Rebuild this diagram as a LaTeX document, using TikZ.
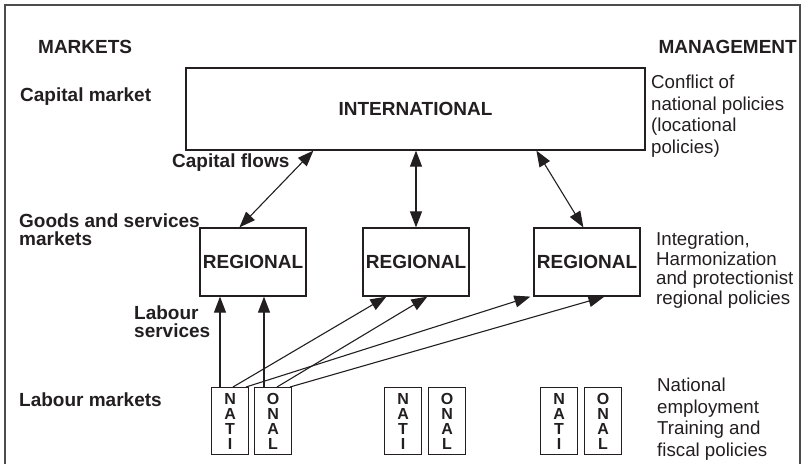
\documentclass[tikz,border=0pt]{standalone}
\usepackage{fontspec}
\setmainfont{Liberation Sans}
\usetikzlibrary{arrows.meta}
\definecolor{ink}{HTML}{231F20}
\begin{document}
\begin{tikzpicture}[x=1pt,y=-1pt,
  lab/.style={font=\bfseries\fontsize{19}{17.5}\selectfont, text=ink, inner sep=0pt, align=left},
  note/.style={font=\fontsize{18.7}{21.5}\selectfont, text=ink, inner sep=0pt, align=left, anchor=north west},
  tightnote/.style={note, font=\fontsize{18.7}{19.5}\selectfont},
  box/.style={draw=ink, line width=1.2pt, inner sep=0pt, text=ink,
    font=\bfseries\fontsize{19}{19}\selectfont},
  lbox/.style={draw=ink, line width=1.2pt, inner sep=0pt, text=ink,
    minimum width=37pt, minimum height=67pt, anchor=north west, align=center,
    font=\bfseries\fontsize{16}{15}\selectfont},
  tip/.tip={Triangle[length=16pt,width=12pt]},
  arr/.style={draw=ink, line width=1.1pt, -tip},
  darr/.style={draw=ink, line width=1.1pt, tip-tip},
]
\useasboundingbox (0,0) rectangle (804,464);
% open frame
\draw[line width=1.6pt, black!70] (5,464) -- (5,5) -- (800,5) -- (800,464);

% market boxes
\node[box, minimum width=459pt, minimum height=82pt] (intl) at (415.5,109) {INTERNATIONAL};
\node[box, minimum width=106pt, minimum height=68pt] (reg1) at (253,262) {REGIONAL};
\node[box, minimum width=106pt, minimum height=68pt] (reg2) at (416,262) {REGIONAL};
\node[box, minimum width=106pt, minimum height=68pt] (reg3) at (587,262) {REGIONAL};

% national labour markets
\node[lbox] (n1) at (211,387) {N\\A\\T\\I};
\node[lbox] (o1) at (254,387) {O\\N\\A\\L};
\node[lbox] (n2) at (384,387) {N\\A\\T\\I};
\node[lbox] (o2) at (428,387) {O\\N\\A\\L};
\node[lbox] (n3) at (540,387) {N\\A\\T\\I};
\node[lbox] (o3) at (584,387) {O\\N\\A\\L};

% capital flows
\draw[darr] ([xshift=128pt]intl.south west) -- ([xshift=40pt]reg1.north west);
\draw[darr] (reg2.north |- intl.south) -- (reg2.north);
\draw[darr] ([xshift=351pt]intl.south west) -- ([xshift=50pt]reg3.north west);

% labour services
\coordinate (v1) at ([xshift=9pt]n1.north west);
\coordinate (v2) at ([xshift=10pt]o1.north west);
\draw[arr] (v1) -- (v1 |- reg1.south);
\draw[arr] (v2) -- (v2 |- reg1.south);
\draw[arr] ([xshift=22pt]n1.north west) -- ([xshift=24pt]reg2.south west);
\draw[arr] ([xshift=35pt]n1.north west) -- ([xshift=-3pt]reg3.south west);
\draw[arr] ([xshift=23pt]o1.north west) -- ([xshift=65pt]reg2.south west);
\draw[arr] ([xshift=36pt]o1.north west) -- ([xshift=71pt]reg3.south west);

% left column labels
\node[lab, anchor=west] (mk) at (38,47) {MARKETS};
\node[lab, anchor=west] (cm) at (20,97) {Capital market};
\node[lab, anchor=west] (cf) at (172,163) {Capital flows};
\node[lab, anchor=north west] (gs) at (19,214) {Goods and services\\markets};
\node[lab, anchor=north west] (ls) at (134,306) {Labour\\services};
\node[lab, anchor=west] (lm) at (19,400) {Labour markets};

% right column: management
\node[lab, anchor=east] (mg) at (797,47) {MANAGEMENT};
\node[note] (p1) at (651,75) {Conflict of\\national policies\\(locational\\policies)};
\node[tightnote] (p2) at (656,232) {Integration,\\Harmonization\\and protectionist\\regional policies};
\node[note] (p3) at (657,378) {National\\employment\\Training and\\fiscal policies};
\end{tikzpicture}
\end{document}
